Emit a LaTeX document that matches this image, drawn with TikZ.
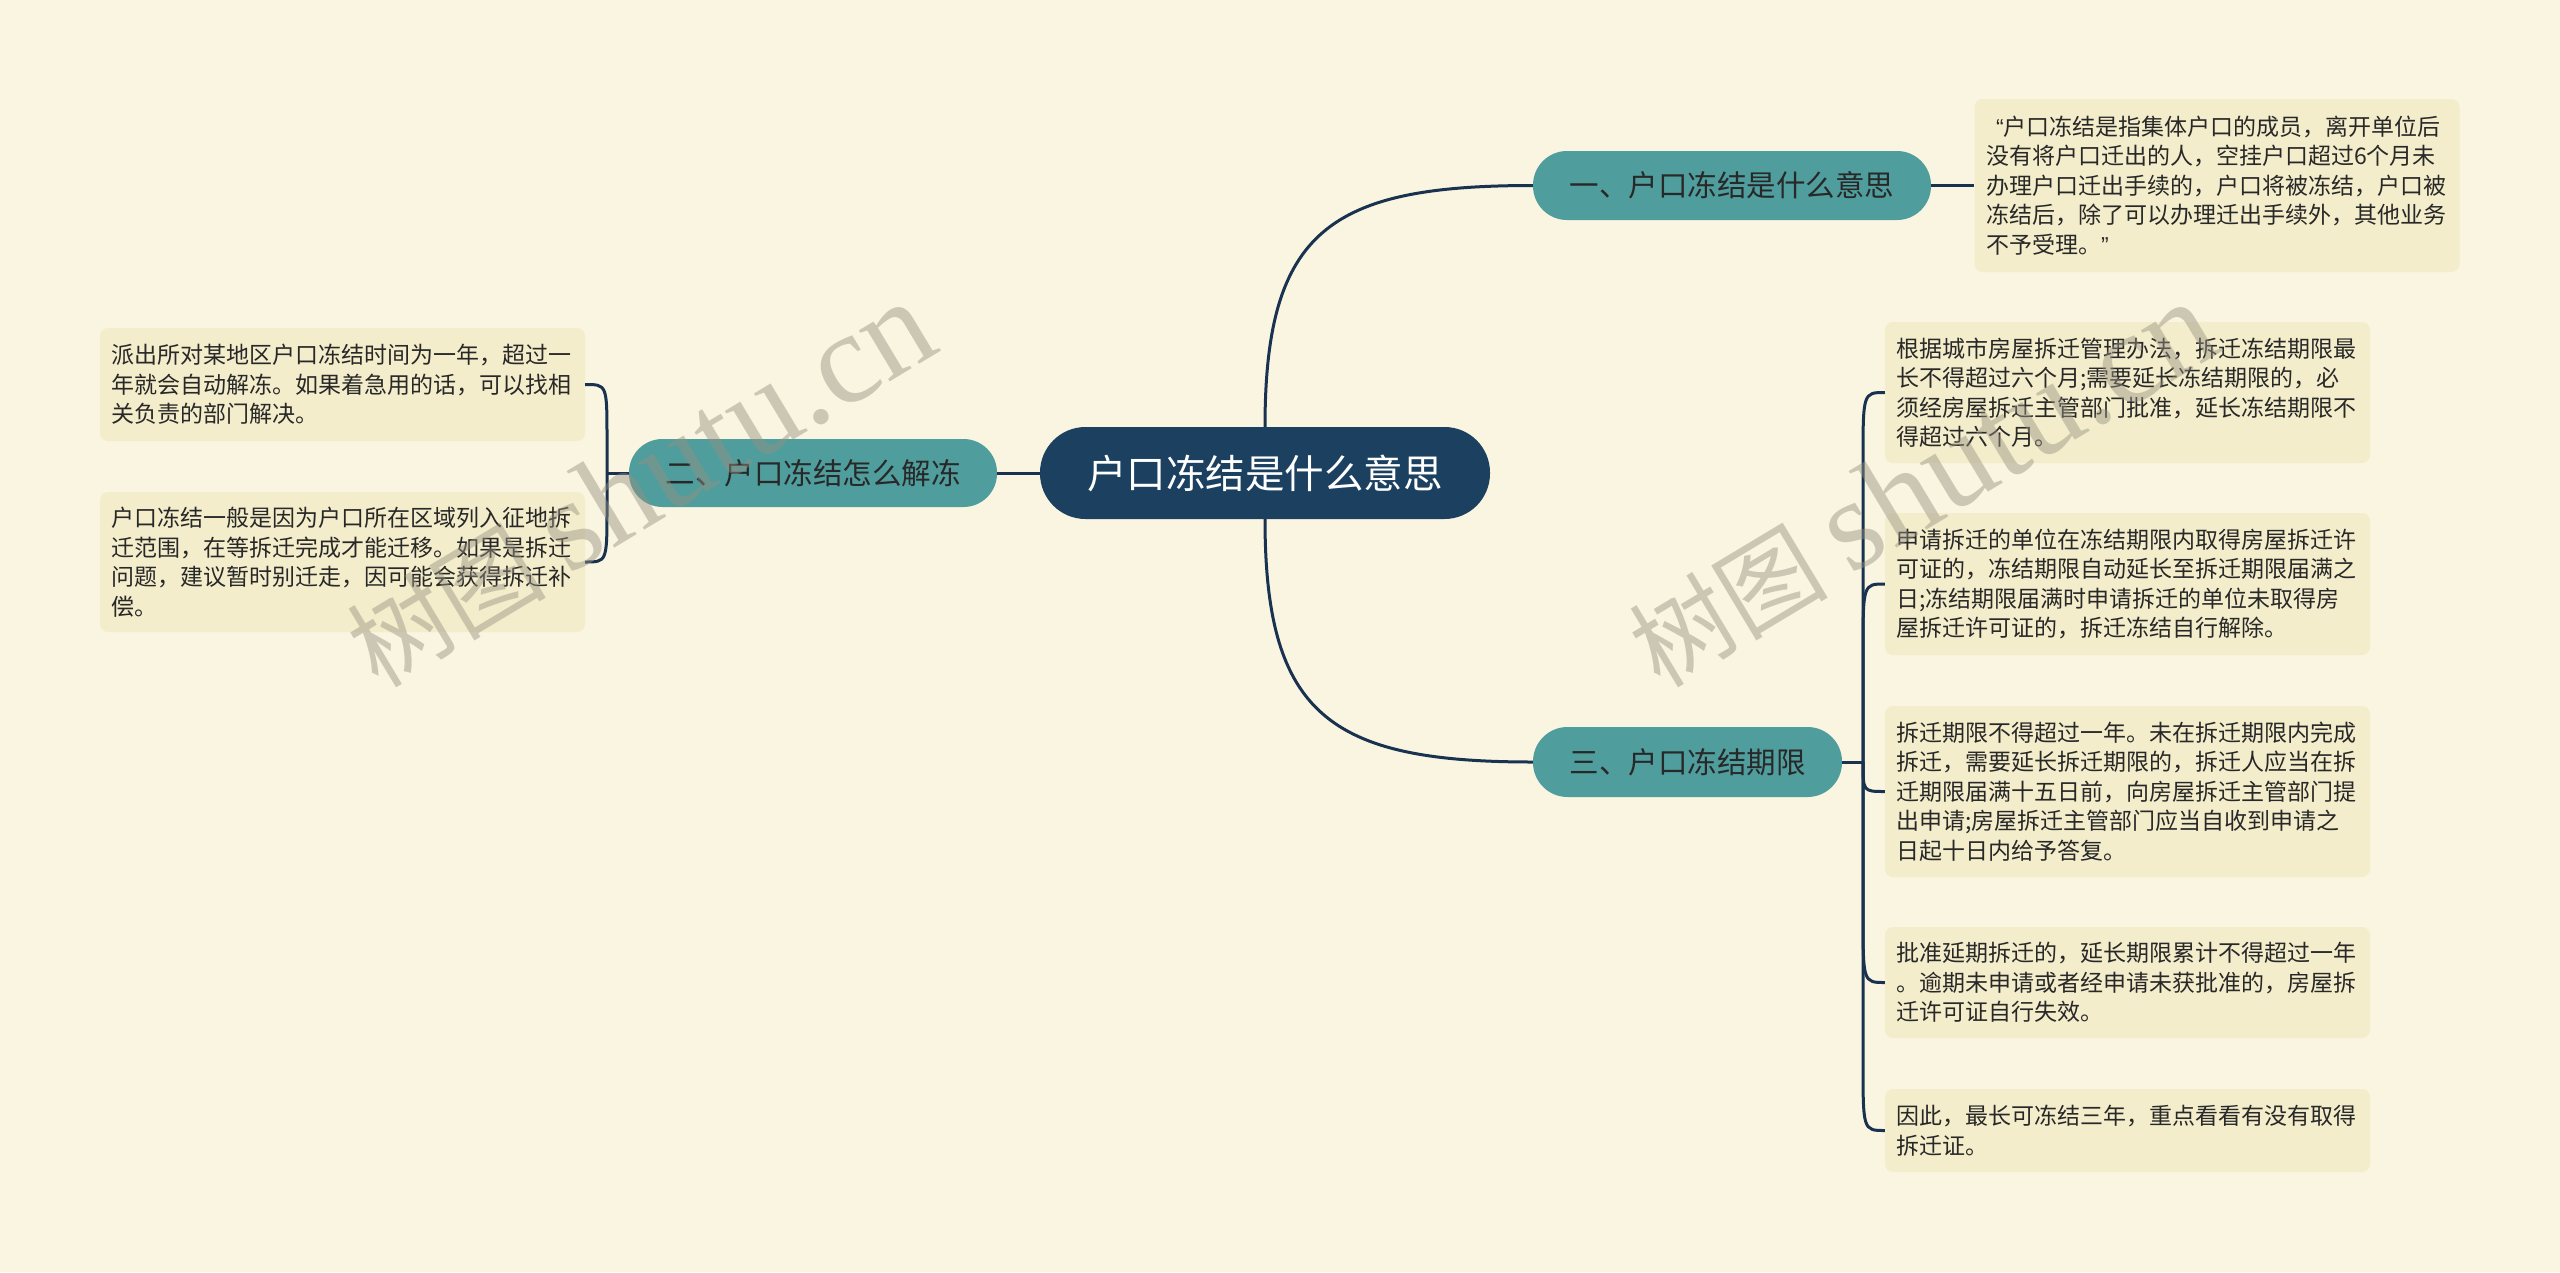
\documentclass[tikz,border=0pt]{standalone}
\usepackage{fontspec}
\setmainfont{Noto Sans CJK SC}
\newfontfamily\wmlatin{Liberation Serif}
\newfontfamily\latinsans{Liberation Sans}
\usetikzlibrary{calc}
\definecolor{cbg}{RGB}{250,245,224}
\definecolor{cleaf}{RGB}{243,237,203}
\definecolor{cteal}{RGB}{79,157,157}
\definecolor{cnavy}{RGB}{27,64,96}
\definecolor{cline}{RGB}{24,50,80}
\definecolor{ctext}{RGB}{40,40,40}
\definecolor{cwm}{RGB}{150,145,130}
\tikzset{
  conn/.style={draw=cline, line width=3pt},
  rootbox/.style={fill=cnavy, rounded corners=45.5pt, minimum width=450pt, minimum height=92pt,
    inner sep=0pt, text=white, font=\fontsize{39.5}{40}\selectfont},
  topicbox/.style={fill=cteal, inner sep=0pt, text=ctext, font=\fontsize{29.5}{30}\selectfont},
  leafbox/.style={fill=cleaf, rounded corners=8pt, text width=462pt, inner xsep=11.5pt, inner ysep=0pt,
    align=left, text=ctext, font=\fontsize{23}{29.5}\selectfont},
  wmark/.style={text=cwm, text opacity=0.45, inner sep=0pt}
}
\begin{document}
\begin{tikzpicture}[x=1pt,y=-1pt]
\fill[cbg] (0,0) rectangle (2560,1272);
\useasboundingbox (0,0) rectangle (2560,1272);

% main nodes
\node[rootbox] (c) at (1265,473) {户口冻结是什么意思};
\node[topicbox, minimum width=398pt, minimum height=69pt, rounded corners=34pt] (n1) at (1732,185.5) {一、户口冻结是什么意思};
\node[topicbox, minimum width=309pt, minimum height=70pt, rounded corners=34.5pt] (n3) at (1687.5,762) {三、户口冻结期限};
\node[topicbox, minimum width=368pt, minimum height=68pt, rounded corners=33.5pt] (n2) at (813,473) {二、户口冻结怎么解冻};

% leaves
\node[leafbox, minimum height=173pt] (l1) at (2217,185.5) {\hspace*{10pt}{\latinsans “}户口冻结是指集体户口的成员，离开单位后\\
没有将户口迁出的人，空挂户口超过6个月未\\
办理户口迁出手续的，户口将被冻结，户口被\\
冻结后，除了可以办理迁出手续外，其他业务\\
不予受理。{\latinsans ”}};

\node[leafbox, minimum height=141pt] (l3a) at (2127.5,392.5) {根据城市房屋拆迁管理办法，拆迁冻结期限最\\
长不得超过六个月;需要延长冻结期限的，必\\
须经房屋拆迁主管部门批准，延长冻结期限不\\
得超过六个月。};

\node[leafbox, minimum height=142pt] (l3b) at (2127.5,584) {申请拆迁的单位在冻结期限内取得房屋拆迁许\\
可证的，冻结期限自动延长至拆迁期限届满之\\
日;冻结期限届满时申请拆迁的单位未取得房\\
屋拆迁许可证的，拆迁冻结自行解除。};

\node[leafbox, minimum height=171pt] (l3c) at (2127.5,791.5) {拆迁期限不得超过一年。未在拆迁期限内完成\\
拆迁，需要延长拆迁期限的，拆迁人应当在拆\\
迁期限届满十五日前，向房屋拆迁主管部门提\\
出申请;房屋拆迁主管部门应当自收到申请之\\
日起十日内给予答复。};

\node[leafbox, minimum height=111pt] (l3d) at (2127.5,982.5) {批准延期拆迁的，延长期限累计不得超过一年\\
。逾期未申请或者经申请未获批准的，房屋拆\\
迁许可证自行失效。};

\node[leafbox, minimum height=83pt] (l3e) at (2127.5,1130.5) {因此，最长可冻结三年，重点看看有没有取得\\
拆迁证。};

\node[leafbox, minimum height=113pt] (l2a) at (342.5,384.5) {派出所对某地区户口冻结时间为一年，超过一\\
年就会自动解冻。如果着急用的话，可以找相\\
关负责的部门解决。};

\node[leafbox, minimum height=140pt] (l2b) at (342.5,562) {户口冻结一般是因为户口所在区域列入征地拆\\
迁范围，在等拆迁完成才能迁移。如果是拆迁\\
问题，建议暂时别迁走，因可能会获得拆迁补\\
偿。};

% connectors
\draw[conn] (c.north) .. controls (1265,230) and (1330,185.5) .. (n1.west);
\draw[conn] (c.south) .. controls (1265,715) and (1330,762) .. (n3.west);
\draw[conn] (c.west) -- (n2.east);
\draw[conn] (n1.east) -- (l1.west);

\coordinate (rs) at (1863,762);
\draw[conn] (n3.east) -- (rs);
\draw[conn] (rs) -- ($(rs|-l3a.west)+(0,70)$) .. controls (rs|-l3a.west) .. (l3a.west);
\draw[conn] (rs) -- ($(rs|-l3b.west)+(0,70)$) .. controls (rs|-l3b.west) .. (l3b.west);
\draw[conn] (rs) .. controls (rs|-l3c.west) .. (l3c.west);
\draw[conn] (rs) -- ($(rs|-l3d.west)+(0,-70)$) .. controls (rs|-l3d.west) .. (l3d.west);
\draw[conn] (rs) -- ($(rs|-l3e.west)+(0,-70)$) .. controls (rs|-l3e.west) .. (l3e.west);

\coordinate (ls) at (607,473);
\draw[conn] (n2.west) -- (ls);
\draw[conn] (ls) -- ($(ls|-l2a.east)+(0,55)$) .. controls (ls|-l2a.east) .. (l2a.east);
\draw[conn] (ls) -- ($(ls|-l2b.east)+(0,-55)$) .. controls (ls|-l2b.east) .. (l2b.east);

% watermarks
\node[wmark, rotate=31, anchor=base west] (wm1) at (378,690) {\fontsize{100}{100}\selectfont 树图 {\wmlatin\fontsize{130}{130}\selectfont shutu.cn}};
\node[wmark, rotate=31, anchor=base west] (wm2) at (1660,690) {\fontsize{100}{100}\selectfont 树图 {\wmlatin\fontsize{130}{130}\selectfont shutu.cn}};
\end{tikzpicture}
\end{document}
